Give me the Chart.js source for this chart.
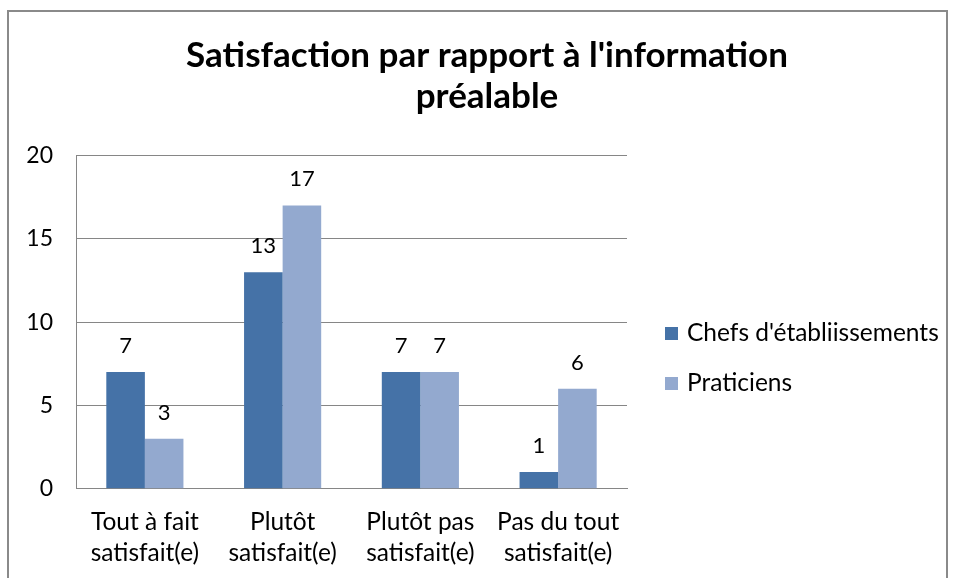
<!DOCTYPE html>
<html>
<head>
<meta charset="utf-8">
<script src="https://cdn.jsdelivr.net/npm/chart.js@4.4.0/dist/chart.umd.min.js"></script>
<style>
html, body { margin: 0; padding: 0; background: #fff; }
#cadre { position: absolute; left: 7px; top: 10px; width: 937px; height: 600px; border: 2px solid #8a8a8a; }
#zone { position: absolute; left: 0; top: 0; width: 953px; height: 578px; }
</style>
</head>
<body>
<div id="cadre"></div>
<div id="zone"><canvas id="graphique"></canvas></div>
<script>
const titre = ["Satisfaction par rapport à l'information", "préalable"];
const categories = [
	["Tout à fait", "satisfait(e)"],
	["Plutôt", "satisfait(e)"],
	["Plutôt pas", "satisfait(e)"],
	["Pas du tout", "satisfait(e)"]
];
const nomsSeries = ["Chefs d'établiissements", "Praticiens"];
const chefs = [7, 13, 7, 1];
const praticiens = [3, 17, 7, 6];
const ticksY = [0, 5, 10, 15, 20];

const police = 'Lato, "Open Sans", sans-serif';

// valeurs au-dessus des barres
const etiquettesValeurs = {
	id: 'etiquettesValeurs',
	afterDatasetsDraw(chart) {
		const ctx = chart.ctx;
		ctx.save();
		ctx.font = '22px ' + police;
		ctx.fillStyle = '#000';
		ctx.textAlign = 'center';
		ctx.textBaseline = 'alphabetic';
		chart.data.datasets.forEach((ds, i) => {
			chart.getDatasetMeta(i).data.forEach((barre, j) => {
				ctx.fillText(ds.data[j], barre.x, barre.y - 19);
			});
		});
		ctx.restore();
	}
};

// légende à droite (celle de Chart.js est trop étroite ici)
const legendeDroite = {
	id: 'legendeDroite',
	afterDraw(chart) {
		const ctx = chart.ctx;
		ctx.save();
		ctx.font = '24.5px ' + police;
		ctx.textBaseline = 'middle';
		ctx.textAlign = 'left';
		chart.data.datasets.forEach((ds, i) => {
			const y = 333 + i * 50;
			ctx.fillStyle = ds.backgroundColor;
			ctx.fillRect(665, y - 6, 13, 13);
			ctx.fillStyle = '#000';
			ctx.fillText(ds.label, 687, y);
		});
		ctx.restore();
	}
};

const ctx = document.getElementById('graphique').getContext('2d');
new Chart(ctx, {
	type: 'bar',
	data: {
		labels: categories,
		datasets: [
			{ label: nomsSeries[0], data: chefs, backgroundColor: '#4572A7' },
			{ label: nomsSeries[1], data: praticiens, backgroundColor: '#93A9CF' }
		]
	},
	options: {
		responsive: true,
		maintainAspectRatio: false,
		animation: false,
		categoryPercentage: 0.56,
		barPercentage: 1,
		layout: { padding: { left: 26, right: 5, top: 11, bottom: 0 } },
		scales: {
			x: {
				grid: { display: false },
				border: { color: '#868686' },
				ticks: { color: '#000', font: { family: police, size: 24.5, lineHeight: 1.25 }, padding: 10, maxRotation: 0 },
				afterFit: (axe) => { axe.paddingLeft = 0; axe.paddingRight = 0; }
			},
			y: {
				min: 0,
				max: 20,
				afterBuildTicks: (axe) => { axe.ticks = ticksY.map(v => ({ value: v })); },
				grid: { color: '#868686', drawTicks: false },
				border: { color: '#868686' },
				ticks: { color: '#000', font: { family: police, size: 23 }, padding: 23 },
				afterFit: (axe) => { axe.width = 50; }
			},
			// place réservée pour la légende
			reserve: {
				type: 'linear',
				position: 'right',
				grid: { display: false },
				border: { display: false },
				ticks: { display: false },
				afterFit: (axe) => { axe.width = 321; }
			}
		},
		plugins: {
			title: {
				display: true,
				text: titre,
				color: '#000',
				font: { family: police, size: 35, weight: 'bold', lineHeight: 1.15 },
				padding: { top: 25, bottom: 39 }
			},
			legend: { display: false },
			tooltip: { enabled: false }
		}
	},
	plugins: [etiquettesValeurs, legendeDroite]
});
</script>
</body>
</html>
